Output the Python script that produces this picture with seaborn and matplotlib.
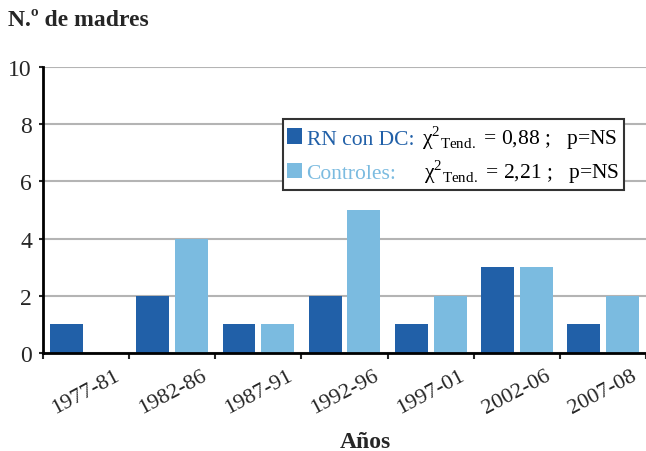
import numpy as np
import pandas as pd
import matplotlib
matplotlib.use("Agg")
import matplotlib.pyplot as plt
from matplotlib.patches import Rectangle
from matplotlib.offsetbox import (AnchoredOffsetbox, DrawingArea, HPacker,
                                  TextArea, VPacker)
import seaborn as sns

# Datos
periodos = ['1977-81', '1982-86', '1987-91', '1992-96', '1997-01', '2002-06', '2007-08']
rn_con_dc = [1, 2, 1, 2, 1, 3, 1]
controles = [0, 4, 1, 5, 2, 3, 2]
grupos = ['RN con DC:', 'Controles:']
chi2_tend = ['0,88', '2,21']
colores = ['#2160A8', '#7BBBE0']

df = pd.DataFrame({
    'Periodo': periodos * 2,
    'Grupo': [grupos[0]] * len(periodos) + [grupos[1]] * len(periodos),
    'N': rn_con_dc + controles,
})

sns.set_style('white')
plt.rcParams['font.family'] = ['Liberation Serif', 'DejaVu Serif']
plt.rcParams['mathtext.fontset'] = 'custom'
plt.rcParams['mathtext.rm'] = 'Liberation Serif'

fig = plt.figure(figsize=(6.46, 4.52), dpi=100)
ax = fig.add_axes([0.0666, 0.2168, 0.9334, 0.6328])

sns.barplot(data=df, x='Periodo', y='N', hue='Grupo', palette=colores,
            width=0.9, gap=0.15, saturation=1, linewidth=0, legend=False, ax=ax)

ax.set_ylim(0, 10)
ax.set_yticks(range(0, 11, 2))
ax.set_xlim(-0.5, 6.407)
ax.yaxis.grid(True, color='#B4B4B4', lw=1.5)
ax.set_axisbelow(True)

sns.despine(ax=ax, top=True, right=True)
for s in ['left', 'bottom']:
    ax.spines[s].set_color('black')
    ax.spines[s].set_linewidth(2)

ax.tick_params(axis='y', left=True, length=3, width=1.5, labelsize=17, pad=5)
ax.set_xticks(np.arange(-0.5, len(periodos), 1), minor=True)
ax.tick_params(axis='x', which='minor', bottom=True, length=4, width=1.5)
ax.tick_params(axis='x', which='major', bottom=False, labelsize=16, pad=6)
plt.setp(ax.get_xticklabels(), rotation=28, ha='center')
ax.set_xlabel('')
ax.set_ylabel('')

fig.text(8 / 646, 1 - 20 / 452, 'N.º de madres', fontsize=17, fontweight='bold',
         ha='left', va='center')
fig.text(365 / 646, 1 - 443 / 452, 'Años', fontsize=17, fontweight='bold',
         ha='center', va='center')

# Leyenda: cuadro de color, nombre del grupo en color y estadistico en negro
filas = []
for grupo, color, valor, hueco in zip(grupos, colores, chi2_tend, [0, 14]):
    cuadro = DrawingArea(11, 11, 0, 0)
    cuadro.add_artist(Rectangle((0, 0), 11, 11, fc=color, ec='none'))
    nombre = TextArea(grupo, textprops=dict(color=color, fontsize=15.5))
    espacio = DrawingArea(hueco, 1, 0, 0)
    estad = TextArea('χ$^{2}{}_{\\mathrm{Tend.}}$ = ' + valor + ' ;   p=NS',
                     textprops=dict(color='black', fontsize=15.5))
    filas.append(HPacker(children=[cuadro, nombre, espacio, estad],
                         align='baseline', pad=0, sep=3))
caja = VPacker(children=filas, align='left', pad=0, sep=5)
leyenda = AnchoredOffsetbox(loc='upper left', child=caja, pad=0.3, borderpad=0,
                            bbox_to_anchor=(0.398, 0.818),
                            bbox_transform=ax.transAxes, frameon=True)
leyenda.patch.set_edgecolor('#333333')
leyenda.patch.set_linewidth(1.5)
leyenda.patch.set_facecolor('white')
ax.add_artist(leyenda)

fig.savefig('out.png', dpi=100)
